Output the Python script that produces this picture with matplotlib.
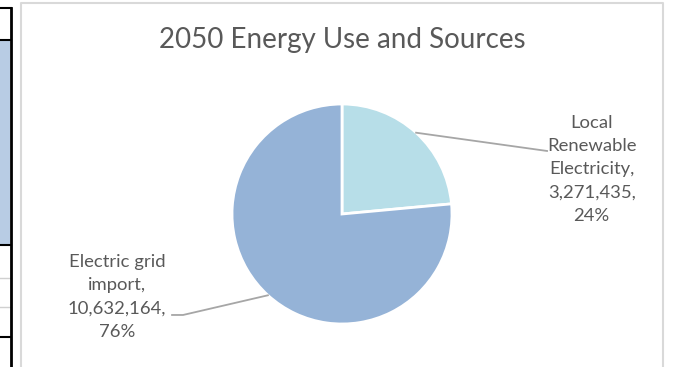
import numpy as np
import matplotlib.pyplot as plt
from matplotlib.patches import Rectangle
from matplotlib.lines import Line2D

# Datos
categorias = ['Local\nRenewable\nElectricity', 'Electric grid\nimport']
valores = [3271435, 10632164]
colores = ['#B7DEE8', '#95B3D7']
titulo = '2050 Energy Use and Sources'

plt.rcParams['font.family'] = ['Lato', 'DejaVu Sans']
gris_texto = '#595959'

W, H = 678, 367
fig = plt.figure(figsize=(W / 100, H / 100), dpi=100)
fig.patch.set_facecolor('white')

# Borde de la hoja de cálculo a la izquierda (px)
def px(x, y):
    return x / W, 1 - y / H

fig.patches.append(Rectangle(px(0, 245), 10 / W, 205 / H, transform=fig.transFigure,
                             facecolor='#B8CCE4', edgecolor='none'))
for y, c, lw in [(8, 'black', 1.5), (40, 'black', 1.5), (245, 'black', 1.5),
                 (278, '#D0D0D0', 1), (307, '#D0D0D0', 1), (337, 'black', 1.5)]:
    fig.lines.append(Line2D([0, 11 / W], [1 - y / H] * 2, transform=fig.transFigure,
                            color=c, lw=lw))
fig.lines.append(Line2D([11 / W] * 2, [0, 1 - 8 / H], transform=fig.transFigure,
                        color='black', lw=2))
# Borde del gráfico
fig.lines.append(Line2D([21 / W, 21 / W, 663 / W, 663 / W], [0, 1 - 3 / H, 1 - 3 / H, 0],
                        transform=fig.transFigure, color='#D9D9D9', lw=1.5))

# Ejes: 1 unidad = radio del pastel (110 px), centro en (342, 214) px
cx, cy, r = 342, 214, 110
ax = fig.add_axes([0, 0, 1, 1])

wedges, _ = ax.pie(valores, colors=colores, startangle=90, counterclock=False,
                   radius=1, wedgeprops=dict(edgecolor='white', linewidth=2))
ax.set_xlim(-cx / r, (W - cx) / r)
ax.set_ylim(-(H - cy) / r, cy / r)
ax.set_aspect('equal')
ax.axis('off')

total = sum(valores)
etiquetas = [f'{c},\n{v:,},\n{v / total:.0%}' for c, v in zip(categorias, valores)]

# Líneas guía y textos
codos = [[(1.864, 0.573)], [(-1.445, -0.918), (-1.545, -0.918)]]
pos_texto = [(2.27, 0.405), (-2.045, -0.755)]
for w, codo, pt, lab in zip(wedges, codos, pos_texto, etiquetas):
    ang = np.deg2rad((w.theta1 + w.theta2) / 2)
    xs = [np.cos(ang)] + [p[0] for p in codo]
    ys = [np.sin(ang)] + [p[1] for p in codo]
    ax.plot(xs, ys, color='#A6A6A6', lw=1.3)
    ax.text(pt[0], pt[1], lab, ha='center', va='center', fontsize=13.3,
            color=gris_texto, linespacing=1.57)

fig.text(342 / W, 1 - 40 / H, titulo, ha='center', va='center', fontsize=20,
         color=gris_texto)

fig.savefig('out.png', dpi=100)
